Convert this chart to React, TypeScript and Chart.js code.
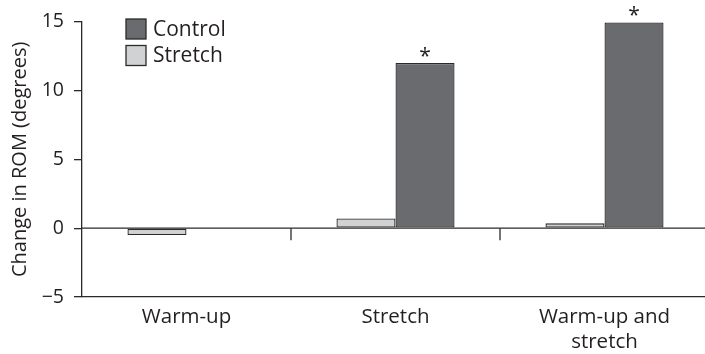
import React, { useEffect, useRef } from "react";
import { Chart, registerables } from "chart.js";

Chart.register(...registerables);

const categories: (string | string[])[] = ["Warm-up", "Stretch", ["Warm-up and", "stretch"]];
const stretchValues = [-0.5, 0.7, 0.35];
const controlValues = [0, 12, 14.95];
const significant = [false, true, true];
const yTicks = [-5, 0, 5, 10, 15];
const seriesNames = ["Stretch", "Control"];
const legendOrder = [1, 0];

const FONT = "'Open Sans', 'Noto Sans', sans-serif";
const TEXT = "#231f20";

export default function App() {
  const ref = useRef<HTMLCanvasElement>(null);
  useEffect(() => {
    document.body.style.margin = "0";
    const canvas = ref.current!;
    const overlay = {
      id: "overlay",
      afterDatasetsDraw(chart: any) {
        const ctx = chart.ctx;
        const xs = chart.scales.x;
        const ys = chart.scales.y;
        const y0 = ys.getPixelForValue(0);
        ctx.save();
        ctx.strokeStyle = "#2a2a2a";
        ctx.lineWidth = 1.3;
        ctx.beginPath();
        ctx.moveTo(chart.chartArea.left, y0);
        ctx.lineTo(chart.chartArea.right, y0);
        ctx.stroke();
        for (let i = 1; i < categories.length; i++) {
          const xb = (xs.getPixelForValue(i - 1) + xs.getPixelForValue(i)) / 2;
          ctx.beginPath();
          ctx.moveTo(xb, y0);
          ctx.lineTo(xb, y0 + 12);
          ctx.stroke();
        }
        const meta = chart.getDatasetMeta(1);
        ctx.fillStyle = TEXT;
        ctx.font = `21px ${FONT}`;
        ctx.textAlign = "center";
        ctx.textBaseline = "alphabetic";
        meta.data.forEach((bar: any, i: number) => {
          if (significant[i]) ctx.fillText("*", bar.x, bar.y + 0);
        });
        const lx = 126, ly = 19, box = 20, gap = 26.5;
        legendOrder.forEach((di, k) => {
          const ds = chart.data.datasets[di];
          const y = ly + k * gap;
          ctx.fillStyle = ds.backgroundColor;
          ctx.fillRect(lx, y, box, box);
          ctx.strokeStyle = "#2a2a2a";
          ctx.lineWidth = 1.3;
          ctx.strokeRect(lx, y, box, box);
          ctx.fillStyle = TEXT;
          ctx.font = `21px ${FONT}`;
          ctx.textAlign = "left";
          ctx.textBaseline = "middle";
          ctx.fillText(ds.label, lx + 27, y + box / 2 + 1);
        });
        ctx.restore();
      },
    };
    const chart = new Chart(canvas, {
      type: "bar",
      data: {
        labels: categories,
        datasets: [
          {
            label: seriesNames[0],
            data: stretchValues,
            backgroundColor: "#d1d2d4",
            borderColor: "#2a2a2a",
            borderWidth: 1.3,
            borderSkipped: false,
            categoryPercentage: 0.565,
            barPercentage: 1,
          },
          {
            label: seriesNames[1],
            data: controlValues,
            backgroundColor: "#6a6b6f",
            borderColor: "#2a2a2a",
            borderWidth: 1.3,
            borderSkipped: false,
            categoryPercentage: 0.565,
            barPercentage: 1,
          },
        ],
      },
      options: {
        responsive: false,
        animation: false,
        layout: { padding: { top: 19, right: 0, left: 8, bottom: 0 } },
        plugins: { legend: { display: false }, tooltip: { enabled: false } },
        scales: {
          x: {
            grid: { display: false, drawTicks: false },
            border: { display: true, color: "#2a2a2a", width: 1.3 },
            ticks: {
              color: TEXT,
              font: { family: FONT, size: 20.5, lineHeight: 1.2 },
              padding: 8,
              maxRotation: 0,
              autoSkip: false,
            },
            afterFit(scale: any) {
              scale.height = 57;
            },
          },
          y: {
            min: -5,
            max: 15,
            afterBuildTicks(scale: any) {
              scale.ticks = yTicks.map((v) => ({ value: v }));
            },
            grid: { drawOnChartArea: false, drawTicks: true, tickLength: 8, color: "#2a2a2a", lineWidth: 1.3 },
            border: { display: true, color: "#2a2a2a", width: 1.3 },
            ticks: {
              color: TEXT,
              font: { family: FONT, size: 19.5 },
              padding: 10,
              callback: (v: any) => String(v).replace("-", "\u2212"),
            },
            title: {
              display: true,
              text: "Change in ROM (degrees)",
              color: TEXT,
              font: { family: FONT, size: 20 },
              padding: { top: 0, bottom: 0 },
            },
            afterFit(scale: any) {
              scale.width = 74;
            },
          },
        },
      },
      plugins: [overlay],
    });
    return () => chart.destroy();
  }, []);
  return (
    <div style={{ width: 705, height: 354, overflow: "hidden", background: "#fff" }}>
      <canvas ref={ref} width={709} height={354} style={{ display: "block", width: 709, height: 354 }} />
    </div>
  );
}
